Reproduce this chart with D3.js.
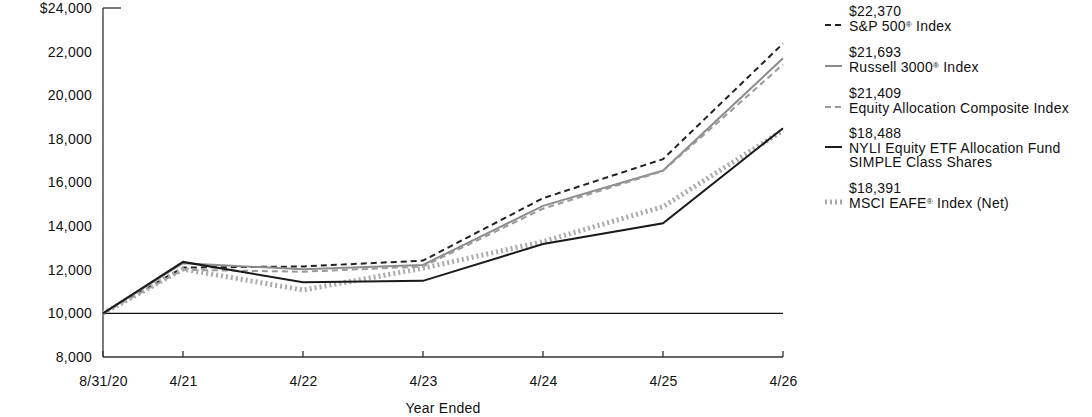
<!DOCTYPE html>
<html><head><meta charset="utf-8">
<script src="https://cdn.jsdelivr.net/npm/d3@7"></script>
<style>body{margin:0;background:#fff}svg{display:block;font-family:"Liberation Sans",Arial,sans-serif}text{letter-spacing:0.25px}</style>
</head><body><svg id="c" width="1092" height="417"></svg>
<script>
const xLabels = ["8/31/20","4/21","4/22","4/23","4/24","4/25","4/26"];
const xMonths = [0, 8, 20, 32, 44, 56, 68];
const yTicks = [8000,10000,12000,14000,16000,18000,20000,22000,24000];
const sp500 = [10000, 12100, 12150, 12420, 15280, 17070, 22370];
const russell = [10000, 12300, 12020, 12220, 14930, 16550, 21693];
const composite = [10000, 12000, 11910, 12150, 14800, 16530, 21409];
const fund = [10000, 12360, 11430, 11490, 13180, 14130, 18488];
const eafe = [10000, 12030, 11070, 12070, 13290, 14890, 18391];
const finalLabels = ["$22,370","$21,693","$21,409","$18,488","$18,391"];

const FS = 14;
const svg = d3.select("#c");
const x = d3.scaleLinear().domain([0,68]).range([103,783]);
const y = d3.scaleLinear().domain([8000,24000]).range([357,8]);

svg.append("g").selectAll("text").data(yTicks).join("text")
  .attr("x",92).attr("y",d=>y(d)).attr("dy","0.35em").attr("text-anchor","end")
  .attr("font-size",FS).attr("fill","#111")
  .text(d=> (d===24000?"$":"") + d3.format(",")(d));

const xAxis = d3.axisBottom(x).tickValues(xMonths).tickSize(0).tickFormat((d,i)=>xLabels[i]);
const gx = svg.append("g").attr("transform","translate(0,357)").call(xAxis);
gx.select(".domain").remove();
gx.selectAll("text").attr("font-size",FS).attr("fill","#111").attr("dy","0").attr("y",29).attr("font-family","Liberation Sans, Arial, sans-serif");
svg.append("g").selectAll("line").data(xMonths).join("line")
  .attr("x1",d=>x(d)).attr("x2",d=>x(d)).attr("y1",357).attr("y2",351)
  .attr("stroke","#333").attr("stroke-width",1.3);
svg.append("line").attr("x1",103).attr("x2",783).attr("y1",357).attr("y2",357).attr("stroke","#333").attr("stroke-width",1.3);
svg.append("line").attr("x1",103).attr("x2",103).attr("y1",8).attr("y2",357).attr("stroke","#333").attr("stroke-width",1.3);
svg.append("line").attr("x1",103).attr("x2",121).attr("y1",y(24000)).attr("y2",y(24000)).attr("stroke","#333").attr("stroke-width",1.3);
svg.append("line").attr("x1",103).attr("x2",783).attr("y1",y(10000)).attr("y2",y(10000)).attr("stroke","#111").attr("stroke-width",1.3);

svg.append("text").attr("x",443).attr("y",413).attr("text-anchor","middle").attr("font-size",FS).attr("fill","#111").text("Year Ended");

const styles = [
  {data:sp500, stroke:"#222", w:2, dash:"6,4"},
  {data:russell, stroke:"#8c8c8c", w:2, dash:null},
  {data:composite, stroke:"#9a9a9a", w:2, dash:"6,4"},
  {data:eafe, stroke:"#aaaaaa", w:5, dash:"2,3"},
  {data:fund, stroke:"#1a1a1a", w:2, dash:null},
];
const line = d3.line().x((d,i)=>x(xMonths[i])).y(d=>y(d));
styles.forEach(s=>{
  svg.append("path").datum(s.data).attr("d",line).attr("fill","none")
    .attr("stroke",s.stroke).attr("stroke-width",s.w)
    .attr("stroke-dasharray",s.dash);
});

const leg = [
  {val:finalLabels[0], lines:[["S&P 500","®"," Index"]], ly:25, stroke:"#222", w:2, dash:"6,4"},
  {val:finalLabels[1], lines:[["Russell 3000","®"," Index"]], ly:66, stroke:"#8c8c8c", w:2, dash:null},
  {val:finalLabels[2], lines:[["Equity Allocation Composite Index","",""]], ly:107, stroke:"#9a9a9a", w:2, dash:"6,4"},
  {val:finalLabels[3], lines:[["NYLI Equity ETF Allocation Fund","",""],["SIMPLE Class Shares","",""]], ly:147, stroke:"#1a1a1a", w:2, dash:null},
  {val:finalLabels[4], lines:[["MSCI EAFE","®"," Index (Net)"]], ly:202, stroke:"#aaaaaa", w:5, dash:"2,3"},
];
const lg = svg.append("g");
leg.forEach(e=>{
  lg.append("line").attr("x1",825).attr("x2",842).attr("y1",e.ly).attr("y2",e.ly)
    .attr("stroke",e.stroke).attr("stroke-width",e.w).attr("stroke-dasharray",e.dash);
  lg.append("text").attr("x",849).attr("y",e.ly-9).attr("font-size",FS).attr("fill","#111").text(e.val);
  e.lines.forEach((l,i)=>{
    const t = lg.append("text").attr("x",849).attr("y",e.ly+5.5+i*14).attr("font-size",FS).attr("fill","#111");
    t.append("tspan").text(l[0]);
    if(l[1]) t.append("tspan").attr("font-size",8).attr("dy",-4).text(l[1]);
    if(l[2]) t.append("tspan").attr("dy",l[1]?4:0).text(l[2]);
  });
});
</script></body></html>
